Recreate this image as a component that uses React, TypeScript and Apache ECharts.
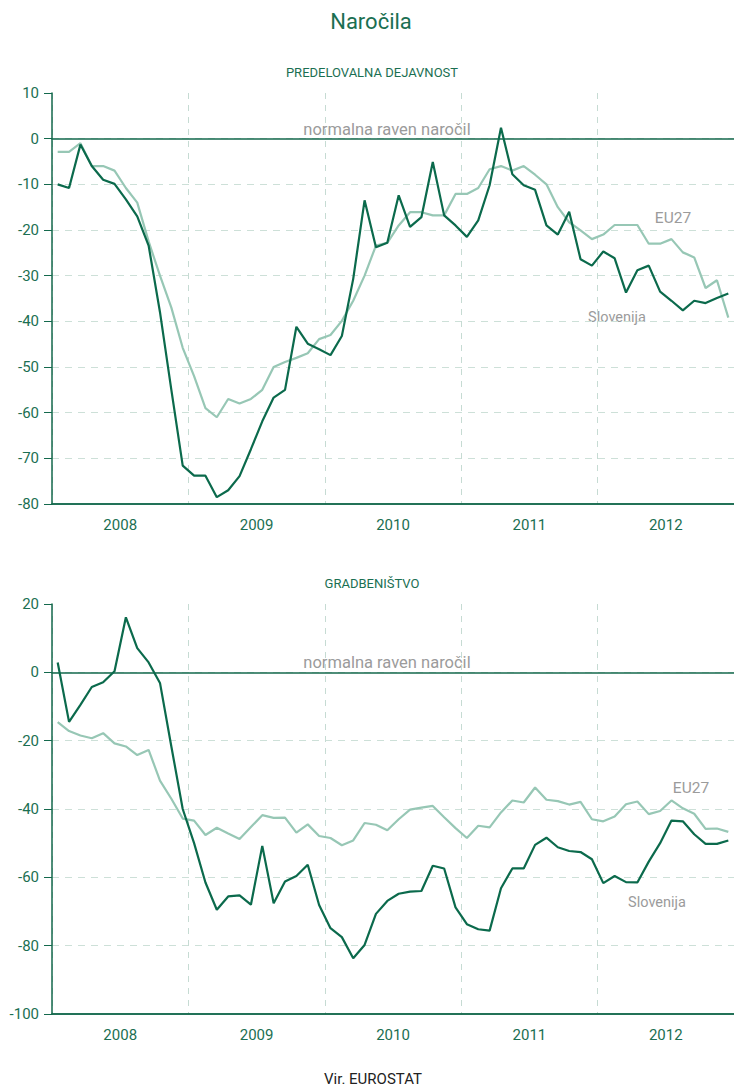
import React, { useEffect, useRef } from "react";
import * as echarts from "echarts";

const years = ["2008", "2009", "2010", "2011", "2012"];
const monthNames = ["01", "02", "03", "04", "05", "06", "07", "08", "09", "10", "11", "12"];
const months: string[] = [];
years.forEach((y) => monthNames.forEach((m) => months.push(y + "-" + m)));

// Predelovalna dejavnost (manufacturing)
const mfgSlovenija = [
  -10, -10.8, -1.3, -6, -9, -9.9, -13.3, -17, -23.4, -38, -55, -71.6,
  -73.8, -73.8, -78.5, -77, -73.9, -68, -61.9, -56.7, -55, -41.2, -44.9, -46.1,
  -47.4, -43.2, -30.7, -13.5, -23.8, -22.8, -12.4, -19.3, -17.2, -5.1, -16.8, -19,
  -21.5, -17.9, -10.2, 2.4, -7.8, -10.2, -11.2, -19, -21, -16, -26.4, -27.8,
  -24.7, -26.2, -33.7, -28.8, -27.8, -33.5, -35.5, -37.6, -35.5, -36, -34.9, -33.9,
];
const mfgEU27 = [
  -2.9, -2.9, -1.0, -6, -6, -7, -10.8, -14, -22.5, -30, -37, -45.8,
  -52, -59, -61, -57, -58, -57, -55, -50, -48.9, -48, -47, -43.9,
  -43, -39.9, -35.5, -30, -23.4, -22.8, -19, -16.1, -16.1, -16.8, -16.8, -12.1,
  -12.1, -10.8, -6.7, -6, -7, -6, -7.9, -10, -15, -18.3, -20.1, -22,
  -21, -18.9, -18.9, -18.9, -23, -23, -22, -24.9, -26, -32.7, -31, -39.2,
];

// Gradbeništvo (construction)
const conSlovenija = [
  2.9, -14.5, -9.5, -4.3, -2.9, 0.3, 16.1, 7.1, 2.9, -3.1, -21.7, -40,
  -50, -61.5, -69.5, -65.6, -65.3, -68, -50.8, -67.6, -61.2, -59.6, -56.3, -68.1,
  -74.9, -77.5, -83.7, -79.8, -70.7, -66.9, -64.8, -64.2, -64, -56.6, -57.4, -68.8,
  -73.7, -75.2, -75.6, -63.2, -57.4, -57.4, -50.5, -48.4, -51.2, -52.3, -52.6, -54.7,
  -61.7, -59.6, -61.4, -61.5, -55.4, -50, -43.4, -43.6, -47.4, -50.2, -50.2, -49.2,
];
const conEU27 = [
  -14.6, -17.2, -18.5, -19.3, -17.8, -20.8, -21.7, -24.2, -22.7, -31.7, -37, -42.8,
  -43.4, -47.6, -45.5, -47.2, -48.8, -45.3, -41.8, -42.6, -42.5, -46.9, -44.5, -47.9,
  -48.5, -50.6, -49.2, -44.1, -44.6, -46.2, -43, -40.2, -39.6, -39.1, -42.4, -45.6,
  -48.5, -44.9, -45.4, -41, -37.5, -38.1, -33.7, -37.3, -37.7, -38.7, -37.9, -43,
  -43.6, -42.2, -38.6, -37.8, -41.5, -40.6, -37.5, -39.8, -41.4, -45.8, -45.7, -46.7,
];

const DARK = "#0b6a4c";
const LIGHT = "#97c7b5";
const AXIS = "#14694d";
const TEXT_GREEN = "#1b6f52";
const GRID_DASH = "#cde0d8";
const GRAY = "#9b9b9b";
const FONT = "Roboto, 'Noto Sans', sans-serif";

function xAxesFor(g: number) {
  return [
    {
      gridIndex: g,
      type: "category",
      data: years,
      position: "bottom",
      boundaryGap: true,
      axisLine: { onZero: false, lineStyle: { color: AXIS, width: 1.5 } },
      axisTick: { interval: 0, length: 10, lineStyle: { color: AXIS, width: 1.2 } },
      axisLabel: { color: TEXT_GREEN, fontSize: 15, fontFamily: FONT, margin: 13 },
      splitLine: { show: true, lineStyle: { color: "#c6dbd3", type: [6, 6], width: 1 } },
    },
    {
      gridIndex: g,
      type: "category",
      data: months,
      position: "bottom",
      boundaryGap: true,
      axisLine: { onZero: false, lineStyle: { color: AXIS, width: 1.5 } },
      axisTick: { interval: 0, length: 4, lineStyle: { color: AXIS, width: 1 } },
      axisLabel: { show: false },
      splitLine: { show: false },
    },
    {
      gridIndex: g,
      type: "category",
      data: months,
      position: "bottom",
      boundaryGap: true,
      axisLine: { onZero: true, lineStyle: { color: AXIS, width: 1.5 } },
      axisTick: { interval: 0, length: 2, lineStyle: { color: AXIS, width: 1 } },
      axisLabel: { show: false },
      splitLine: { show: false },
    },
  ];
}

function yAxisFor(g: number, min: number, max: number, interval: number) {
  return {
    gridIndex: g,
    type: "value",
    min,
    max,
    interval,
    axisLine: { show: true, onZero: false, lineStyle: { color: AXIS, width: 1.5 } },
    axisTick: { show: true, length: 8, lineStyle: { color: AXIS, width: 1 } },
    axisLabel: { color: TEXT_GREEN, fontSize: 15, fontFamily: FONT, margin: 13 },
    splitLine: {
      show: true,
      showMaxLine: false,
      showMinLine: false,
      lineStyle: { color: GRID_DASH, type: [7, 6], width: 1 },
    },
  };
}

function lineSeries(name: string, data: number[], xi: number, yi: number, color: string, z: number) {
  return {
    name,
    type: "line",
    data,
    xAxisIndex: xi,
    yAxisIndex: yi,
    symbol: "none",
    lineStyle: { color, width: 2.2 },
    z,
  };
}

function txt(text: string, x: number, y: number, size: number, fill: string, extra: any = {}) {
  return {
    type: "text",
    x,
    y,
    style: {
      text,
      fill,
      font: `${size}px ${FONT}`,
      textAlign: "center",
      textVerticalAlign: "middle",
      ...extra,
    },
  };
}

export default function App() {
  const ref = useRef<HTMLDivElement>(null);
  useEffect(() => {
    if (!ref.current) return;
    const chart = echarts.init(ref.current, undefined, { renderer: "svg" });
    chart.setOption({
      animation: false,
      backgroundColor: "#ffffff",
      grid: [
        { left: 52, right: 0, top: 93, height: 411, containLabel: false },
        { left: 52, right: 0, top: 604, height: 410, containLabel: false },
      ],
      xAxis: [...xAxesFor(0), ...xAxesFor(1)],
      yAxis: [yAxisFor(0, -80, 10, 10), yAxisFor(1, -100, 20, 20)],
      series: [
        lineSeries("EU27", mfgEU27, 1, 0, LIGHT, 3),
        lineSeries("Slovenija", mfgSlovenija, 1, 0, DARK, 4),
        lineSeries("EU27 ", conEU27, 4, 1, LIGHT, 3),
        lineSeries("Slovenija ", conSlovenija, 4, 1, DARK, 4),
      ],
      graphic: [
        txt("Naročila", 371, 21, 22, TEXT_GREEN),
        txt("PREDELOVALNA DEJAVNOST", 372, 72, 13, TEXT_GREEN),
        txt("GRADBENIŠTVO", 372, 583, 13, TEXT_GREEN),
        txt("normalna raven naročil", 387, 129, 16.5, GRAY),
        txt("normalna raven naročil", 387, 662, 16.5, GRAY),
        txt("EU27", 673, 218, 15.5, GRAY),
        txt("Slovenija", 617, 317, 14.5, GRAY),
        txt("EU27", 691, 788, 15.5, GRAY),
        txt("Slovenija", 657, 902, 14.5, GRAY),
        txt("Vir. EUROSTAT", 373, 1079, 15, "#222222"),
      ],
    });
    return () => chart.dispose();
  }, []);
  return (
    <div
      ref={ref}
      style={{ position: "absolute", left: 0, top: 0, width: 734, height: 1087 }}
    />
  );
}
